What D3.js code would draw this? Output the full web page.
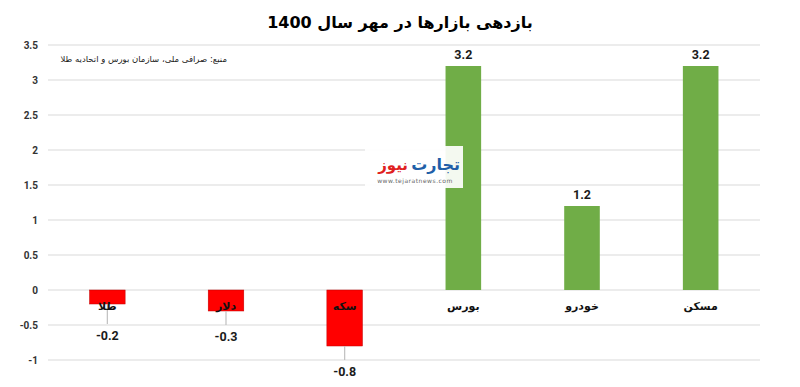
<!DOCTYPE html>
<html><head><meta charset="utf-8">
<script src="https://cdn.jsdelivr.net/npm/d3@7"></script>
<style>body{margin:0;background:#fff}svg{display:block}</style>
</head><body>
<svg id="c" width="800" height="387"></svg>
<script>
const categories = ["طلا","دلار","سکه","بورس","خودرو","مسکن"];
const values = [-0.2,-0.3,-0.8,3.2,1.2,3.2];
const yTicks = [-1,-0.5,0,0.5,1,1.5,2,2.5,3,3.5];
const title = "بازدهی بازارها در مهر سال 1400";
const source = "منبع: صرافی ملی، سازمان بورس و اتحادیه طلا";

const svg = d3.select("#c");
const margin = {left:48, right:40, top:45, bottom:27};
const W = 800, H = 387;
const x = d3.scaleBand().domain(categories).range([margin.left, W-margin.right]).paddingInner(0.7).paddingOuter(0.35);
const y = d3.scaleLinear().domain([-1,3.5]).range([H-margin.bottom, margin.top]);

// gridlines
svg.append("g").selectAll("line").data(yTicks).join("line")
  .attr("x1", margin.left).attr("x2", W-margin.right)
  .attr("y1", d=>y(d)).attr("y2", d=>y(d))
  .attr("stroke","#d9d9d9").attr("stroke-width",1);

// y axis labels
const yAxis = d3.axisLeft(y).tickValues(yTicks).tickSize(0).tickPadding(10).tickFormat(d=>String(d));
const gy = svg.append("g").attr("transform",`translate(${margin.left},0)`).call(yAxis);
gy.select(".domain").remove();
gy.selectAll("text").attr("font-family","Roboto, 'DejaVu Sans', sans-serif").attr("font-weight","bold").attr("font-size","10px").attr("fill","#333");

// bars
svg.append("g").selectAll("rect").data(values).join("rect")
  .attr("x",(d,i)=>x(categories[i])).attr("width",x.bandwidth())
  .attr("y",d=>y(Math.max(0,d))).attr("height",d=>Math.abs(y(d)-y(0)))
  .attr("fill",d=>d<0?"#ff0000":"#70ad47")
  .attr("stroke",d=>d<0?"#c00000":"none").attr("stroke-width",0.5);

// negative label position
const negLabelY = d => Math.max(y(d)+30, y(0)+50);

// leader lines for negatives
const neg = values.map((v,i)=>({v,i})).filter(d=>d.v<0);
svg.append("g").selectAll("line").data(neg).join("line")
  .attr("x1",d=>x(categories[d.i])+x.bandwidth()/2).attr("x2",d=>x(categories[d.i])+x.bandwidth()/2)
  .attr("y1",d=>y(d.v)).attr("y2",d=>negLabelY(d.v)-16)
  .attr("stroke","#bfbfbf").attr("stroke-width",1.2);

// value labels
svg.append("g").selectAll("text").data(values).join("text")
  .attr("x",(d,i)=>x(categories[i])+x.bandwidth()/2)
  .attr("y",d=>d>=0? y(d)-7 : negLabelY(d))
  .attr("text-anchor","middle")
  .attr("font-family","Roboto, 'DejaVu Sans', sans-serif").attr("font-weight","bold").attr("font-size","12.5px").attr("fill","#1a1a1a")
  .text(d=>String(d));

// category labels
svg.append("g").selectAll("text").data(categories).join("text")
  .attr("x",d=>x(d)+x.bandwidth()/2).attr("y",y(0)+20)
  .attr("text-anchor","middle").attr("direction","rtl")
  .attr("font-family","'DejaVu Sans', sans-serif").attr("font-weight","bold").attr("font-size","11px").attr("fill","#111")
  .text(d=>d);

// title
svg.append("text").attr("x",400).attr("y",28).attr("text-anchor","middle").attr("direction","rtl")
  .attr("font-family","'DejaVu Sans', sans-serif").attr("font-weight","bold").attr("font-size","16px").attr("fill","#000")
  .text(title);

// source
svg.append("text").attr("x",227).attr("y",62).attr("text-anchor","start").attr("direction","rtl")
  .attr("font-family","'DejaVu Sans', sans-serif").attr("font-size","8.5px").attr("fill","#222")
  .text(source);

// watermark logo
const lg = svg.append("g");
lg.append("rect").attr("x",365).attr("y",146).attr("width",98).attr("height",42).attr("fill","#fff").attr("opacity",0.92);
lg.append("text").attr("x",460).attr("y",170).attr("text-anchor","end")
  .attr("font-family","'DejaVu Sans', sans-serif").attr("font-weight","bold").attr("font-size","16px").attr("fill","#1f5fa8")
  .text("تجارت");
lg.append("text").attr("x",408).attr("y",170).attr("text-anchor","end")
  .attr("font-family","'DejaVu Sans', sans-serif").attr("font-weight","bold").attr("font-size","15px").attr("fill","#e02020")
  .text("نیوز");
lg.append("text").attr("x",415).attr("y",183).attr("text-anchor","middle")
  .attr("font-family","'DejaVu Sans', sans-serif").attr("font-size","6px").attr("fill","#666").attr("letter-spacing","0.5")
  .text("www.tejaratnews.com");
</script>
</body></html>
